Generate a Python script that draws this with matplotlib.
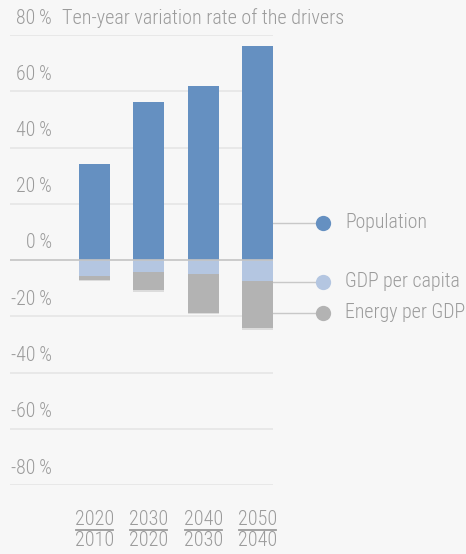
import matplotlib
matplotlib.use('Agg')
import matplotlib.pyplot as plt
import matplotlib.transforms as mtransforms
import numpy as np

plt.rcParams['font.family'] = ['Roboto Condensed', 'Liberation Sans Narrow', 'Roboto', 'DejaVu Sans']
plt.rcParams['font.weight'] = 'light'

# data (percent, ten-year variation)
periods_top = ['2020', '2030', '2040', '2050']
periods_bottom = ['2010', '2020', '2030', '2040']
population = [34.1, 56.2, 62.0, 76.1]
gdp_per_capita = [-5.7, -4.3, -5.0, -7.5]
energy_per_gdp = [-1.4, -6.4, -13.8, -16.8]
yticks = [80, 60, 40, 20, 0, -20, -40, -60, -80]
legend_names = ['Population', 'GDP per capita', 'Energy per GDP']
legend_y = [13.2, -7.8, -18.8]

bg = '#f7f7f7'
txt = '#9b9b9b'
c_pop = '#6590c1'
c_gdp = '#b4c6e1'
c_eng = '#b3b3b3'
colors = [c_pop, c_gdp, c_eng]

W, H = 466, 554
fig = plt.figure(figsize=(W / 100, H / 100), dpi=100, facecolor=bg)
ax = fig.add_axes([10 / W, (H - 485) / H, 263 / W, 450 / H], facecolor=bg)

x = np.arange(len(population))
ax.set_xlim(-1.555, 3.285)
ax.set_ylim(-80, 80)
for s in ax.spines.values():
    s.set_visible(False)
ax.set_xticks([])
ax.set_yticks([])

# grid
for v in yticks:
    if v == 0:
        continue
    ax.axhline(v, color='#e6e6e6', lw=1.2, zorder=0)

bw = 0.57
ax.bar(x, population, width=bw, color=c_pop, zorder=2)
ax.bar(x, gdp_per_capita, width=bw, color=c_gdp, zorder=2)
ax.bar(x, energy_per_gdp, width=bw, bottom=gdp_per_capita, color=c_eng, zorder=2)
# faint shadow under the bars
bottoms = np.array(gdp_per_capita) + np.array(energy_per_gdp)
ax.bar(x, [-0.5] * len(x), width=bw, bottom=bottoms, color='#dcdcdc', zorder=1)
ax.axhline(0, color='#c4c4c4', lw=1.2, zorder=3)

# y labels above gridlines
lab_tr = mtransforms.offset_copy(ax.get_yaxis_transform(), fig=fig, x=0, y=17, units='dots')
for v in yticks:
    ax.text(42 / 263, v, f'{v}\u2009%', transform=lab_tr, ha='right', va='center',
            color=txt, fontsize=14.3)
ax.text(52.5 / 263, 80, 'Ten-year variation rate of the drivers', transform=lab_tr,
        ha='left', va='center', color=txt, fontsize=14.5)

# x labels as fractions
xtr = ax.get_xaxis_transform()
for i in range(len(x)):
    ax.text(x[i], -34.5 / 450, periods_top[i], transform=xtr, ha='center', va='center',
            color=txt, fontsize=14.5, clip_on=False)
    ax.text(x[i], -56 / 450, periods_bottom[i], transform=xtr, ha='center', va='center',
            color=txt, fontsize=14.5, clip_on=False)
    ax.plot([x[i] - 0.34, x[i] + 0.34], [-44.5 / 450] * 2, transform=xtr,
            color=txt, lw=1.3, clip_on=False)

# legend with leader lines
x_edge = x[-1] + bw / 2
x_dot = x_edge + 50 / 54.33
x_txt = x_edge + 72 / 54.33
for name, yy, c in zip(legend_names, legend_y, colors):
    ax.plot([x_edge, x_dot], [yy, yy], color='#c8c8c8', lw=1, clip_on=False, zorder=1)
    ax.plot([x_dot], [yy], 'o', ms=11, color=c, mec='none', clip_on=False, zorder=4)
    ax.text(x_txt, yy, name, ha='left', va='center', color=txt, fontsize=14.3, clip_on=False)

fig.savefig('out.png', dpi=100, facecolor=bg)
